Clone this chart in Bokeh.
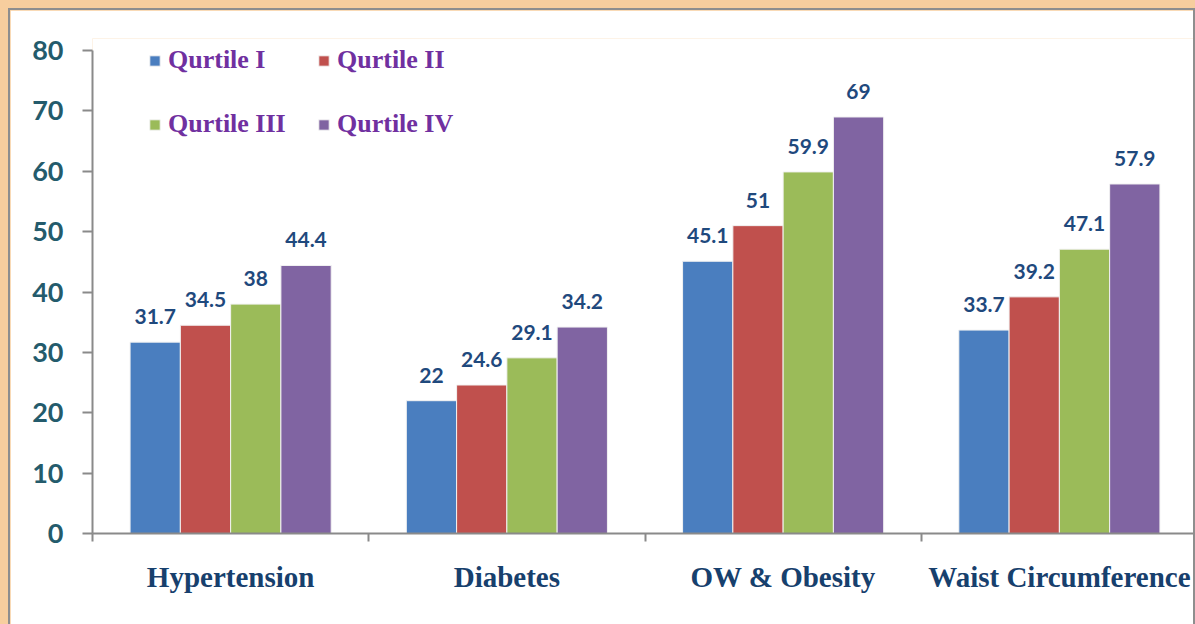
from bokeh.plotting import figure
from bokeh.models import (ColumnDataSource, FactorRange, Range1d, LinearAxis, FixedTicker,
                          Legend, LegendItem)
from bokeh.transform import dodge
from bokeh.core.properties import value
from bokeh.embed import file_html
from bokeh.resources import INLINE

categories = ["Hypertension", "Diabetes", "OW & Obesity", "Waist Circumference"]
series_names = ["Qurtile I", "Qurtile II", "Qurtile III", "Qurtile IV"]
q1 = [31.7, 22.0, 45.1, 33.7]
q2 = [34.5, 24.6, 51.0, 39.2]
q3 = [38.0, 29.1, 59.9, 47.1]
q4 = [44.4, 34.2, 69.0, 57.9]
y_ticks = [0, 10, 20, 30, 40, 50, 60, 70, 80]

colors = ["#4A7EBF", "#C0504D", "#9BBB59", "#8064A2"]
offsets = [-0.273, -0.091, 0.091, 0.273]
bar_w = 0.182

data = {"cat": categories}
for key, vals in zip(["q1", "q2", "q3", "q4"], [q1, q2, q3, q4]):
    data[key] = vals
    data[key + "_lbl"] = [f"{v:g}" for v in vals]
source = ColumnDataSource(data)

p = figure(width=1187, height=616, x_range=FactorRange(*categories, range_padding=0),
           y_range=Range1d(0, 82), output_backend="svg", toolbar_location=None,
           x_axis_location=None, min_border_left=82, min_border_top=28,
           min_border_bottom=93, min_border_right=0)
p.styles = {"border-left": "2px solid #8E8E8E", "border-top": "2px solid #8E8E8E",
            "border-right": "2px solid #8E8E8E"}
p.background_fill_color = "white"
p.border_fill_color = "white"
p.outline_line_color = None
p.xgrid.visible = False
p.ygrid.visible = False

# y axis
yax = p.yaxis[0]
yax.ticker = FixedTicker(ticks=y_ticks, minor_ticks=[])
yax.bounds = (0, 80)
yax.axis_line_color = "#8A8A8A"
yax.axis_line_width = 2
yax.major_tick_line_color = "#8A8A8A"
yax.major_tick_line_width = 2
yax.major_tick_in = 0
yax.major_tick_out = 10
yax.minor_tick_line_color = None
yax.major_label_standoff = 19
yax.major_label_text_font = "Lato"
yax.major_label_text_font_style = "bold"
yax.major_label_text_font_size = "27px"
yax.major_label_text_color = "#245B6C"

# x axis in the factor range's synthetic coordinates: labels at centres, ticks at boundaries
n = len(categories)
xax = LinearAxis()
xax.ticker = FixedTicker(ticks=[i + 0.5 for i in range(n)], minor_ticks=list(range(n + 1)))
xax.major_label_overrides = {i + 0.5: c for i, c in enumerate(categories)}
xax.axis_line_color = "#8A8A8A"
xax.axis_line_width = 2
xax.major_tick_line_color = None
xax.major_tick_in = 0
xax.major_tick_out = 0
xax.minor_tick_line_color = "#8A8A8A"
xax.minor_tick_line_width = 2
xax.minor_tick_in = 0
xax.minor_tick_out = 8
xax.major_label_standoff = 19
xax.major_label_text_font = "Liberation Serif"
xax.major_label_text_font_style = "bold"
xax.major_label_text_font_size = "29px"
xax.major_label_text_color = "#17406D"
p.add_layout(xax, "below")

renderers = []
for key, col, off in zip(["q1", "q2", "q3", "q4"], colors, offsets):
    r = p.vbar(x=dodge("cat", off, range=p.x_range), top=key, width=bar_w, source=source,
               fill_color=col, line_color="#F2F2F2", line_width=1)
    renderers.append(r)
    p.text(x=dodge("cat", off, range=p.x_range), y=key, text=key + "_lbl", source=source,
           text_align="center", text_baseline="bottom", y_offset=-18,
           text_font=value("Lato"), text_font_style="bold", text_font_size="21px",
           text_color="#1F497D")

def make_legend(idx, loc):
    leg = Legend(items=[LegendItem(label=series_names[i], renderers=[renderers[i]]) for i in idx],
                 location=loc, orientation="horizontal")
    leg.glyph_width = 13
    leg.glyph_height = 13
    leg.label_standoff = 7
    leg.label_width = 129
    leg.spacing = 20
    leg.padding = 0
    leg.margin = 0
    leg.border_line_color = None
    leg.background_fill_alpha = 0
    leg.label_text_font = "Liberation Serif"
    leg.label_text_font_style = "bold"
    leg.label_text_font_size = "26px"
    leg.label_text_color = "#7030A0"
    return leg

p.add_layout(make_legend([0, 1], (56, 458)))
p.add_layout(make_legend([2, 3], (56, 394)))

html = file_html(p, INLINE)
css = "<style>html, body { background: #F7CE9E !important; margin: 0 !important; padding: 0 !important; } body { padding: 8px 0 0 8px !important; }</style>"
html = html.replace("</head>", css + "</head>", 1)
open("out.html", "w").write(html)
